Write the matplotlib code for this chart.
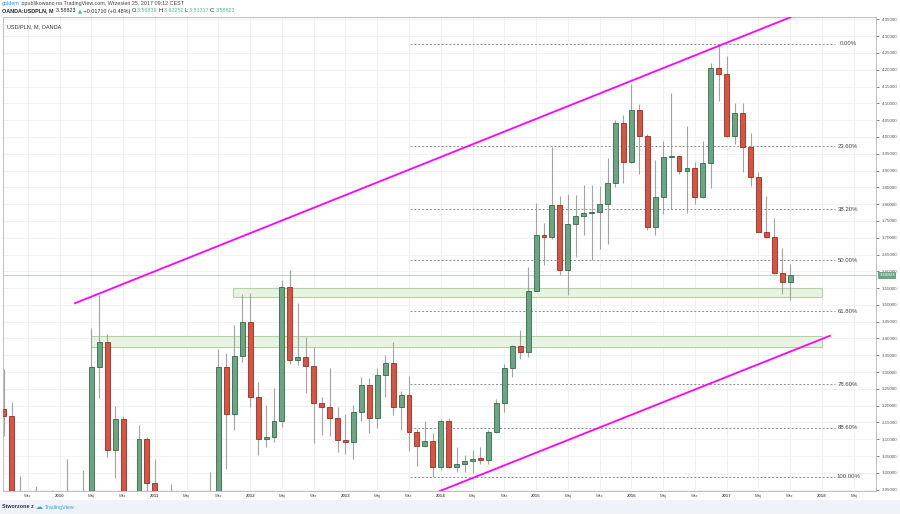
import matplotlib
matplotlib.use("Agg")
import matplotlib.pyplot as plt
from matplotlib.patches import Rectangle
import pandas as pd

plt.rcParams['font.family'] = ['Liberation Sans', 'DejaVu Sans']

# monthly USD/PLN candles, Jun 2009 .. Sep 2017
start_month = "2009-06"
opens = [3.19, 3.17, 2.90, 2.86, 2.88, 2.86, 2.76,
         2.86, 2.93, 2.90, 2.86, 2.93, 3.316, 3.391, 3.068, 3.16, 2.91, 2.85, 3.10,
         2.971, 2.88, 2.87, 2.83, 2.65, 2.72, 2.76, 2.80, 2.90, 3.316, 3.175, 3.349,
         3.449, 3.227, 3.10, 3.108, 3.153, 3.553, 3.336, 3.346, 3.318, 3.207, 3.195, 3.163,
         3.098, 3.091, 3.181, 3.262, 3.163, 3.292, 3.327, 3.197, 3.232, 3.123, 3.081, 3.095,
         3.016, 3.154, 3.016, 3.027, 3.034, 3.042, 3.039, 3.123, 3.207, 3.312, 3.378, 3.361,
         3.542, 3.708, 3.703, 3.798, 3.604, 3.741, 3.765, 3.773, 3.778, 3.801, 3.862, 4.041,
         3.924, 4.08, 4.003, 3.731, 3.82, 3.94, 3.943, 3.90, 3.907, 3.82, 3.922, 4.204,
         4.187, 4.003, 4.07, 3.971, 3.88, 3.718, 3.701, 3.594, 3.56839]
highs = [3.31, 3.21, 2.99, 2.94, 2.96, 2.93, 2.95,
         2.94, 3.04, 2.92, 3.01, 3.43, 3.53, 3.413, 3.199, 3.17, 2.93, 3.143, 3.106,
         3.04, 2.94, 2.966, 2.85, 2.80, 2.82, 2.90, 3.004, 3.368, 3.356, 3.44, 3.533,
         3.535, 3.269, 3.202, 3.252, 3.574, 3.604, 3.506, 3.403, 3.374, 3.225, 3.312, 3.197,
         3.176, 3.202, 3.285, 3.282, 3.312, 3.351, 3.391, 3.245, 3.289, 3.13, 3.155, 3.118,
         3.16, 3.162, 3.078, 3.054, 3.068, 3.078, 3.128, 3.219, 3.324, 3.381, 3.424, 3.612,
         3.803, 3.743, 3.969, 3.823, 3.83, 3.826, 3.857, 3.857, 3.855, 3.936, 4.049, 4.065,
         4.157, 4.098, 4.01, 3.932, 3.988, 4.132, 3.946, 4.034, 3.924, 3.988, 4.22, 4.277,
         4.242, 4.10, 4.10, 4.011, 3.897, 3.823, 3.758, 3.669, 3.62252]
lows = [3.11, 2.85, 2.78, 2.76, 2.76, 2.71, 2.70,
        2.77, 2.86, 2.80, 2.75, 2.90, 3.224, 3.047, 2.984, 2.89, 2.74, 2.76, 2.93,
        2.83, 2.84, 2.80, 2.64, 2.62, 2.67, 2.72, 2.73, 2.88, 3.011, 3.128, 3.33,
        3.196, 3.054, 3.076, 3.093, 3.138, 3.324, 3.32, 3.237, 3.09, 3.113, 3.11, 3.063,
        3.057, 3.04, 3.153, 3.118, 3.133, 3.227, 3.173, 3.128, 3.065, 3.021, 3.078, 2.989,
        3.009, 3.015, 3.002, 3.004, 3.001, 3.027, 3.027, 3.12, 3.182, 3.285, 3.338, 3.344,
        3.54, 3.619, 3.696, 3.589, 3.528, 3.644, 3.708, 3.634, 3.667, 3.681, 3.85, 3.862,
        3.922, 3.889, 3.723, 3.708, 3.77, 3.785, 3.89, 3.773, 3.801, 3.818, 3.849, 4.106,
        3.999, 3.979, 3.896, 3.855, 3.716, 3.698, 3.592, 3.532, 3.51317]
closes = [3.17, 2.90, 2.86, 2.88, 2.86, 2.76, 2.86,
          2.93, 2.90, 2.86, 2.93, 3.316, 3.391, 3.068, 3.16, 2.91, 2.85, 3.10, 2.971,
          2.88, 2.87, 2.83, 2.65, 2.72, 2.76, 2.80, 2.90, 3.316, 3.175, 3.349, 3.449,
          3.227, 3.10, 3.108, 3.153, 3.553, 3.336, 3.346, 3.318, 3.207, 3.195, 3.163, 3.098,
          3.091, 3.181, 3.262, 3.163, 3.292, 3.327, 3.197, 3.232, 3.123, 3.081, 3.095, 3.016,
          3.154, 3.016, 3.027, 3.034, 3.042, 3.039, 3.123, 3.207, 3.312, 3.378, 3.361, 3.542,
          3.708, 3.703, 3.798, 3.604, 3.741, 3.765, 3.773, 3.778, 3.801, 3.862, 4.041, 3.924,
          4.08, 4.003, 3.731, 3.82, 3.94, 3.943, 3.90, 3.907, 3.82, 3.922, 4.204, 4.187,
          4.003, 4.07, 3.971, 3.88, 3.718, 3.701, 3.594, 3.568, 3.58823]

tick_months = ["2009-09", "2010-01", "2010-05", "2010-09", "2011-01", "2011-05", "2011-09",
               "2012-01", "2012-05", "2012-09", "2013-01", "2013-05", "2013-09", "2014-01",
               "2014-05", "2014-09", "2015-01", "2015-05", "2015-09", "2016-01", "2016-05",
               "2016-09", "2017-01", "2017-05", "2017-09", "2018-01", "2018-05"]
tick_labels = ["Wrz", "2010", "Maj", "Wrz", "2011", "Maj", "Wrz", "2012", "Maj", "Wrz",
               "2013", "Maj", "Wrz", "2014", "Maj", "Wrz", "2015", "Maj", "Wrz", "2016",
               "Maj", "Wrz", "2017", "Maj", "Wrz", "2018", "Maj"]

# drawings (x in months from Jan 2010, y in price)
upper_channel_x = [1.95, 92.0]
upper_channel_y = [3.505, 4.356]
lower_channel_x = [47.9, 97.0]
lower_channel_y = [2.946, 3.408]
zones = [(21.85, 96.0, 3.524, 3.551), (3.9, 96.0, 3.376, 3.408)]
fib_high = 4.277
fib_low = 2.988
fib_levels = [0.0, 0.236, 0.382, 0.5, 0.618, 0.786, 0.886, 1.0]
fib_names = ["0.00%", "23.60%", "38.20%", "50.00%", "61.80%", "78.60%", "88.60%", "100.00%"]
fib_x = [44.1, 97.7]
last_price = 3.58823

base = pd.Period("2010-01", freq="M")


def month_pos(m):
    return (pd.Period(m, freq="M") - base).n


first = month_pos(start_month)
xs = [first + k for k in range(len(opens))]

fig = plt.figure(figsize=(9, 5.14), dpi=100)
fig.patch.set_facecolor("white")
ax = fig.add_axes([3 / 900, 1 - 491 / 514, 873 / 900, 474 / 514])
ax.set_xlim(-7.12, 102.8)
ax.set_ylim(2.946, 4.357)

# grid
yt = [2.95 + 0.05 * k for k in range(29)]
for t in tick_months:
    ax.axvline(month_pos(t), color="#f0f0f0", lw=0.7, zorder=0)
for y in yt:
    ax.axhline(y, color="#f2f2f2", lw=0.7, zorder=0)

# zones
for x0, x1, y0, y1 in zones:
    ax.add_patch(Rectangle((x0, y0), x1 - x0, y1 - y0, facecolor="#e9f3e3",
                           edgecolor="#b3d3a6", lw=0.8, zorder=1))

# candles
for x, o, h, l, c in zip(xs, opens, highs, lows, closes):
    up = c >= o
    ax.vlines(x, l, h, color="#a3a3a3", lw=0.8, zorder=2)
    body = max(abs(c - o), 0.004)
    ax.bar(x, body, bottom=min(o, c), width=0.62,
           color="#6ba583" if up else "#d75442",
           edgecolor="#2f6d48" if up else "#9e2c1c", lw=0.6, zorder=3)

# last price line
ax.axhline(last_price, color="#b9d3c3", lw=0.7, zorder=1)

# fibonacci
for lv, name in zip(fib_levels, fib_names):
    p = fib_high - lv * (fib_high - fib_low)
    ax.plot(fib_x, [p, p], color="#8c8c8c", lw=0.7, ls=(0, (2, 2)), zorder=2)
    ax.text(99.3, p, name, fontsize=4.3, color="#444444", ha="center", va="center")

# channel lines
ax.plot(upper_channel_x, upper_channel_y, color="#ff00ff", lw=1.3, zorder=4)
ax.plot(lower_channel_x, lower_channel_y, color="#ff00ff", lw=1.3, zorder=4)

# axes styling
ax.yaxis.tick_right()
ax.set_yticks(yt)
ax.set_yticklabels(["%.5f" % y for y in yt])
ax.tick_params(axis="y", labelsize=3.2, colors="#555555", length=2.5, width=0.5, pad=1.5)
ax.set_xticks([month_pos(t) for t in tick_months])
ax.set_xticklabels(tick_labels)
ax.tick_params(axis="x", labelsize=3.2, colors="#555555", length=0, pad=2.5)
for lbl, txt in zip(ax.get_xticklabels(), tick_labels):
    if txt.isdigit():
        lbl.set_fontweight("bold")
for s in ax.spines.values():
    s.set_color("#b4b4b4")
    s.set_linewidth(0.6)

# price tag on the axis
ax.text(1.004, (last_price - 2.946) / (4.357 - 2.946), "3.58823", transform=ax.transAxes,
        fontsize=3.2, color="white", ha="left", va="center",
        bbox=dict(boxstyle="square,pad=0.3", facecolor="#6ba583", edgecolor="none"))

ax.text(0.005, 0.985, "USD/PLN, M, OANDA", transform=ax.transAxes, fontsize=4,
        color="#333333", ha="left", va="top")

# header
t = fig.text(2 / 900, 1 - 4 / 514, "goldem", fontsize=3.9, color="#2a8fd8", va="center")
fig.canvas.draw()
ann = fig.text(0, 0, "")
prev = t
for s, col, w in [(" opublikowano na TradingView.com, Wrzesień 25, 2017 09:12 CEST", "#444444", "normal")]:
    prev = ax.annotate(s, xy=(1, 0), xycoords=prev, va="bottom", fontsize=3.9, color=col,
                       fontweight=w, annotation_clip=False)

parts = [("OANDA:USDPLN, M  ", "#222222", "bold"), ("3.58823 ", "#222222", "normal"),
         ("▲", "#53b987", "normal"), (" +0.01710 (+0.48%) ", "#222222", "normal"),
         ("O:", "#222222", "normal"), ("3.56839 ", "#53b987", "normal"),
         ("H:", "#222222", "normal"), ("3.62252 ", "#53b987", "normal"),
         ("L:", "#222222", "normal"), ("3.51317 ", "#53b987", "normal"),
         ("C:", "#222222", "normal"), ("3.58823", "#53b987", "normal")]
prev = fig.text(2 / 900, 1 - 11 / 514, parts[0][0], fontsize=3.9, color=parts[0][1],
                fontweight=parts[0][2], va="center")
for s, col, w in parts[1:]:
    prev = ax.annotate(s, xy=(1, 0), xycoords=prev, va="bottom", fontsize=3.9, color=col,
                       fontweight=w, annotation_clip=False,
                       family=["DejaVu Sans"] if s == "▲" else None)

# footer strip
fig.patches.append(Rectangle((0, 0), 1, 14 / 514, transform=fig.transFigure,
                             facecolor="#eff2f6", edgecolor="none", zorder=-1))
fig.text(2 / 900, 7 / 514, "Stworzone z", fontsize=3.9, fontweight="bold", color="#333333",
         va="center")
fig.text(45 / 900, 7 / 514, "TradingView", fontsize=3.9, color="#3aa3e3", va="center")
fig.text(36 / 900, 7 / 514, "☁", fontsize=5, color="#3aa3e3", va="center",
         family=["DejaVu Sans"])

fig.savefig("out.png", dpi=100)
